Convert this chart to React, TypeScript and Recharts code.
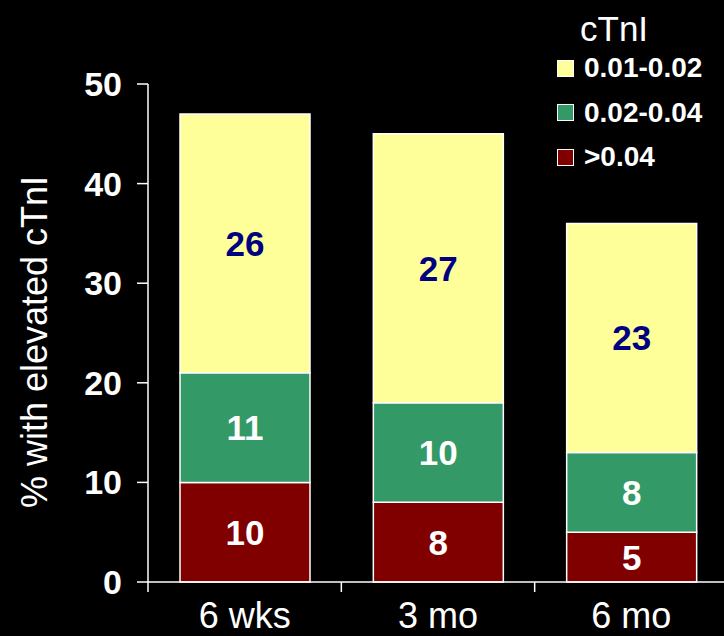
import React from "react";
import {
  BarChart,
  Bar,
  XAxis,
  YAxis,
  Legend,
  LabelList,
} from "recharts";

const FONT = '"Liberation Sans", Arial, sans-serif';

const periods = ["6 wks", "3 mo", "6 mo"];
const high = [10, 8, 5]; // >0.04
const mid = [11, 10, 8]; // 0.02-0.04
const low = [26, 27, 23]; // 0.01-0.02
const yTicks = [0, 10, 20, 30, 40, 50];
const legendOrder = ["0.01-0.02", "0.02-0.04", ">0.04"];

const data = periods.map((name, i) => ({
  name,
  high: high[i],
  mid: mid[i],
  low: low[i],
}));

// category label plus a small tick on the left edge of its band
function PeriodTick({ x, y, payload }: any) {
  const half = payload?.offset ?? 0;
  const axisY = y - 20;
  return (
    <g>
      <line
        x1={x - half}
        x2={x - half}
        y1={axisY}
        y2={axisY + 10}
        stroke="#fff"
        strokeWidth={1.5}
      />
      <text
        x={x}
        y={y}
        dy="0.71em"
        textAnchor="middle"
        fill="#fff"
        fontSize={36}
        fontFamily={FONT}
      >
        {payload.value}
      </text>
    </g>
  );
}

function LegendBox({ payload }: any) {
  const items = [...(payload || [])].sort(
    (a: any, b: any) => legendOrder.indexOf(a.value) - legendOrder.indexOf(b.value)
  );
  return (
    <div style={{ position: "relative", width: 168, height: 180, fontFamily: FONT }}>
      <div
        style={{
          position: "absolute",
          left: 24,
          top: 11,
          fontSize: 35,
          lineHeight: "35px",
          color: "#fff",
        }}
      >
        cTnI
      </div>
      {items.map((it: any, i: number) => (
        <div
          key={it.value}
          style={{
            position: "absolute",
            left: 1,
            top: 54 + i * 44.5,
            height: 28,
            display: "flex",
            alignItems: "center",
            whiteSpace: "nowrap",
          }}
        >
          <span
            style={{
              display: "inline-block",
              width: 15,
              height: 15,
              background: it.color,
              border: "1.5px solid #fff",
            }}
          />
          <span
            style={{
              marginLeft: 10,
              fontSize: 28,
              fontWeight: "bold",
              lineHeight: "28px",
              color: "#fff",
            }}
          >
            {it.value}
          </span>
        </div>
      ))}
    </div>
  );
}

export default function App() {
  return (
    <div
      style={{
        position: "absolute",
        left: 0,
        top: 0,
        width: 724,
        height: 636,
        overflow: "hidden",
        background: "#000",
      }}
    >
      <BarChart
        width={740}
        height={636}
        data={data}
        margin={{ top: 84, right: 12, left: 0, bottom: 0 }}
        style={{ fontFamily: FONT }}
      >
        <XAxis
          dataKey="name"
          height={54}
          tickLine={false}
          tickSize={0}
          tickMargin={20}
          axisLine={{ stroke: "#fff", strokeWidth: 1.5 }}
          tick={<PeriodTick />}
        />
        <YAxis
          width={148}
          domain={[0, 50]}
          ticks={yTicks}
          interval={0}
          tickSize={11}
          tickMargin={15}
          axisLine={{ stroke: "#fff", strokeWidth: 1.5 }}
          tickLine={{ stroke: "#fff", strokeWidth: 1.5 }}
          tick={{ fill: "#fff", fontSize: 34, fontWeight: "bold", fontFamily: FONT }}
          label={(props: any) => {
            const vb = props.viewBox || { x: 0, y: 84, width: 148, height: 498 };
            const cx = 34;
            const cy = vb.y + vb.height / 2 + 9;
            return (
              <text
                x={cx}
                y={cy}
                transform={`rotate(-90, ${cx}, ${cy})`}
                textAnchor="middle"
                dominantBaseline="central"
                fill="#fff"
                fontSize={36}
                fontFamily={FONT}
              >
                % with elevated cTnI
              </text>
            );
          }}
        />
        <Legend
          layout="horizontal"
          verticalAlign="middle"
          align="center"
          content={<LegendBox />}
          wrapperStyle={{ position: "absolute", left: 556, top: 0, width: 168, height: 180 }}
        />
        <Bar
          dataKey="high"
          name=">0.04"
          stackId="a"
          fill="#800000"
          stroke="#fff"
          strokeWidth={1.5}
          barSize={130}
          isAnimationActive={false}
        >
          <LabelList
            dataKey="high"
            position="center"
            fill="#fff"
            fontSize={35}
            fontWeight="bold"
            fontFamily={FONT}
          />
        </Bar>
        <Bar
          dataKey="mid"
          name="0.02-0.04"
          stackId="a"
          fill="#339966"
          stroke="#fff"
          strokeWidth={1.5}
          barSize={130}
          isAnimationActive={false}
        >
          <LabelList
            dataKey="mid"
            position="center"
            fill="#fff"
            fontSize={35}
            fontWeight="bold"
            fontFamily={FONT}
          />
        </Bar>
        <Bar
          dataKey="low"
          name="0.01-0.02"
          stackId="a"
          fill="#FFFF99"
          stroke="#fff"
          strokeWidth={1.5}
          barSize={130}
          isAnimationActive={false}
        >
          <LabelList
            dataKey="low"
            position="center"
            fill="#000080"
            fontSize={35}
            fontWeight="bold"
            fontFamily={FONT}
          />
        </Bar>
      </BarChart>
    </div>
  );
}
